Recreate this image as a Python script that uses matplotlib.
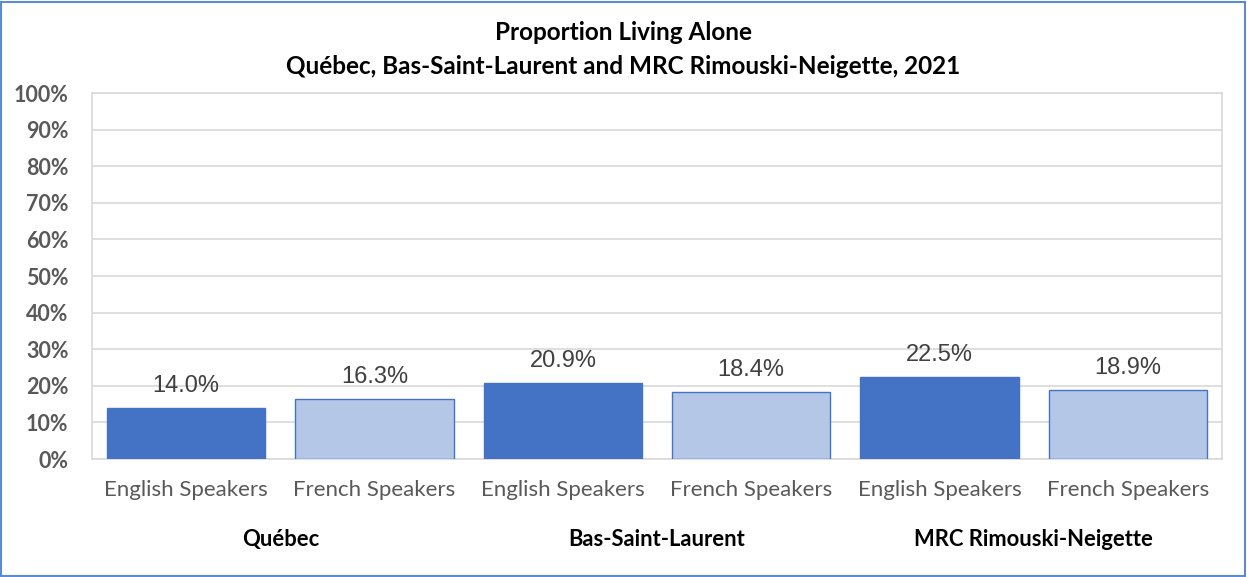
import matplotlib.pyplot as plt
from matplotlib.patches import Rectangle

# Données
groups = ['Québec', 'Bas-Saint-Laurent', 'MRC Rimouski-Neigette']
categories = ['English Speakers', 'French Speakers'] * 3
values = [14.0, 16.3, 20.9, 18.4, 22.5, 18.9]
yticks = [0, 10, 20, 30, 40, 50, 60, 70, 80, 90, 100]

dark = '#4472C4'
light = '#B4C7E7'
colors = [dark, light] * 3

fig = plt.figure(figsize=(12.47, 5.77), dpi=100)
ax = fig.add_axes([0.0738, 0.2045, 0.9062, 0.6343])

x = list(range(len(values)))
bars = ax.bar(x, values, width=0.84, color=colors, edgecolor=dark, linewidth=1.0, zorder=3)

for xi, v in zip(x, values):
    ax.text(xi, v + 3.0, f'{v:.1f}%', ha='center', va='bottom', fontsize=17,
            color='#404040', family='Liberation Sans')

ax.set_xlim(-0.5, len(values) - 0.5)
ax.set_ylim(0, 100)
ax.set_yticks(yticks)
ax.set_yticklabels([f'{t}%' for t in yticks], fontsize=15.5, fontweight='bold',
                   color='#595959', family='Lato')
ax.set_xticks(x)
ax.set_xticklabels(categories, fontsize=16, color='#595959', family='Lato')
ax.tick_params(axis='both', length=0)
ax.tick_params(axis='x', pad=15)
ax.tick_params(axis='y', pad=17)
ax.grid(axis='y', color='#d9d9d9', linewidth=1.2, zorder=0)
for s in ax.spines.values():
    s.set_color('#d9d9d9')
    s.set_linewidth(1.2)

# Étiquettes des groupes
for i, g in enumerate(groups):
    ax.text(2 * i + 0.5, -22, g, transform=ax.transData, ha='center', va='center',
            fontsize=15.8, fontweight='bold', color='black', family='Lato', clip_on=False)

fig.text(0.5, 1 - 32 / 577, 'Proportion Living Alone', ha='center', va='center',
         fontsize=17.5, fontweight='bold', family='Lato')
fig.text(0.5, 1 - 66 / 577, 'Québec, Bas-Saint-Laurent and MRC Rimouski-Neigette, 2021',
         ha='center', va='center', fontsize=17.5, fontweight='bold', family='Lato')

fig.patches.append(Rectangle((0.001, 0.002), 0.997, 0.995, transform=fig.transFigure,
                             fill=False, edgecolor='#5B8BD0', linewidth=1.5))

fig.savefig('out.png', dpi=100)
